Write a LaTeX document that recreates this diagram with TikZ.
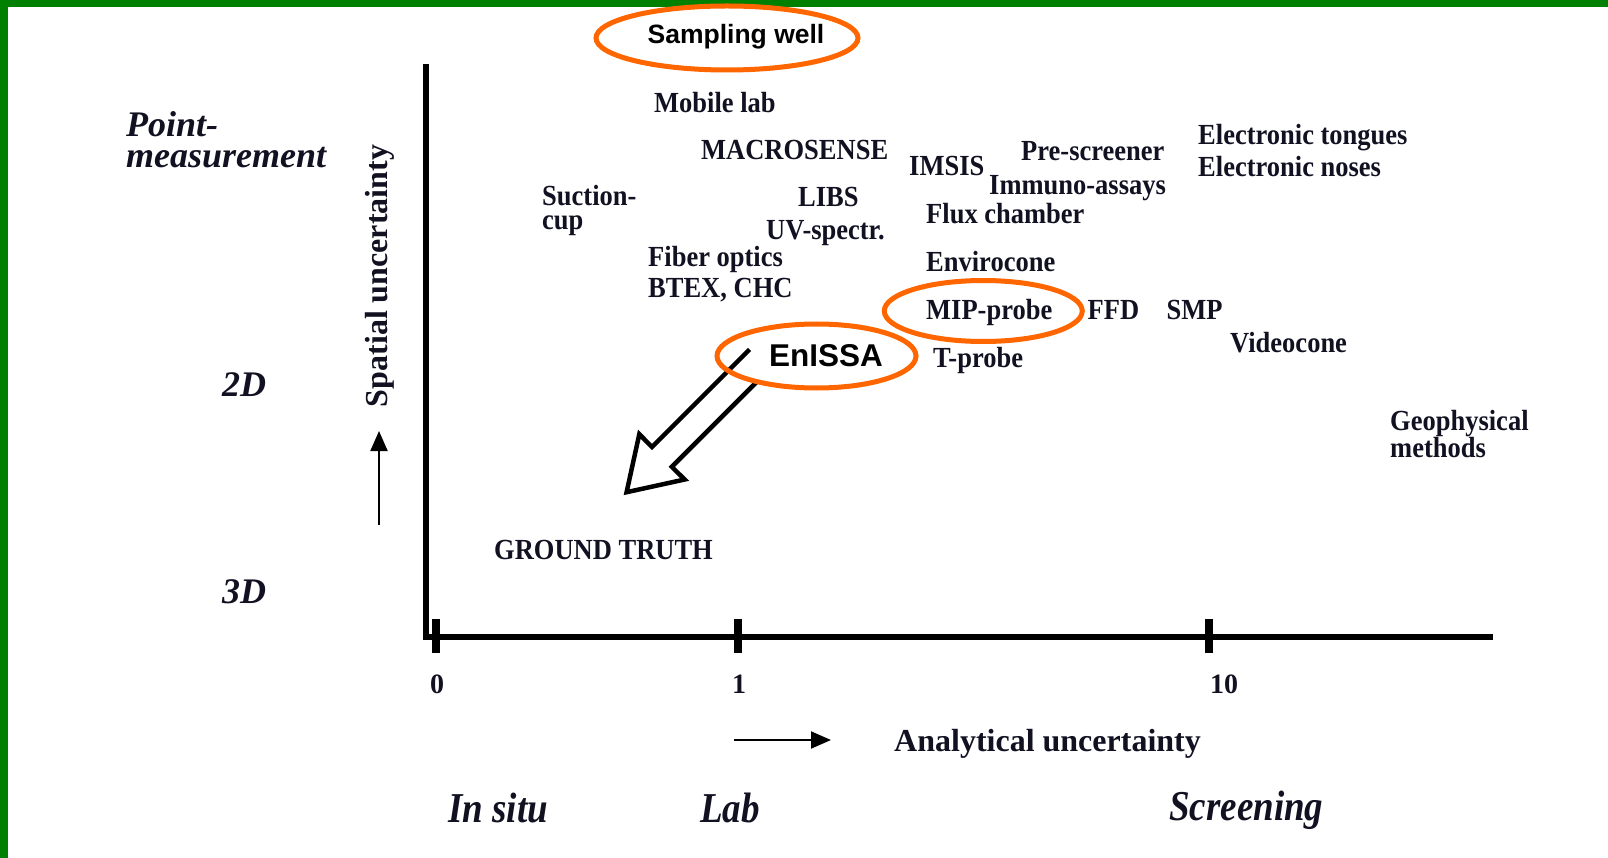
\documentclass[tikz,border=0pt]{standalone}
\usepackage{fontspec}
\setmainfont{Liberation Serif}
\newfontfamily\arialfont{Liberation Sans}
\usetikzlibrary{positioning,arrows.meta}

\definecolor{ink}{RGB}{17,17,34}
\definecolor{ringorange}{RGB}{255,102,0}
\definecolor{framegreen}{RGB}{0,128,0}

\tikzset{
	lbl/.style={font=\fontsize{26.5}{28}\selectfont\bfseries, text=ink, inner sep=0pt, text height=17.5pt, text depth=1.5pt, anchor=west, yscale=1.1},
	side/.style={font=\fontsize{36}{38}\selectfont\bfseries\itshape, text=ink, inner sep=0pt, anchor=base west},
	kind/.style={font=\fontsize{37}{39}\selectfont\bfseries\itshape, text=ink, inner sep=0pt, anchor=base west, yscale=1.15},
	axl/.style={font=\fontsize{32}{34}\selectfont\bfseries, text=ink, inner sep=0pt},
	num/.style={font=\fontsize{28}{30}\selectfont\bfseries, text=ink, inner sep=0pt, anchor=base},
	tag/.style={text=black, inner sep=0pt, anchor=base},
	ring/.style={draw=ringorange, line width=5pt},
	axisline/.style={line width=5.5pt, line join=miter},
	tickmark/.style={line width=8pt},
	hint/.style={line width=2pt, -{Triangle[length=20pt,width=17pt]}},
	bigarrow/.style={line width=4.5pt, line join=miter},
}

\begin{document}
\begin{tikzpicture}[x=1pt, y=-1pt]
	\useasboundingbox (0,0) rectangle (1608,858);
	\fill[framegreen] (0,0) rectangle (1608,7);
	\fill[framegreen] (0,0) rectangle (8,858);

	\coordinate (o) at (426,637);
	\coordinate (yt) at (426,64);
	\coordinate (xe) at (1493,637);
	\draw[axisline] (yt) -- (o) -- (xe);
	\foreach \x/\lx/\t in {436/437/0, 738/739/1, 1209/1224/10} {
		\draw[tickmark] (\x,619) -- (\x,653);
		\node[num] at (\lx,693) {\t};
	}

	\node[side] (pt) at (126,137) {Point-};
	\node[side, below=31pt of pt.base west, anchor=base west] (pm) {measurement};
	\node[side] (d2) at (222,396) {2D};
	\node[side] (d3) at (222,603) {3D};

	\node[axl, rotate=90] (su) at (380,276) {Spatial uncertainty};
	\coordinate (su0) at (379,525);
	\coordinate (su1) at (379,431);
	\draw[hint] (su0) -- (su1);
	\node[axl, anchor=base west] (au) at (894,751) {Analytical uncertainty};
	\coordinate (au0) at (734,740);
	\coordinate (au1) at (831,740);
	\draw[hint] (au0) -- (au1);

	\node[kind] (is) at (448,822) {In situ};
	\node[kind] (lb) at (700,822) {Lab};
	\node[kind] (sg) at (1169,820) {Screening};

	\node[lbl] (ml) at (654,104) {Mobile lab};
	\node[lbl] (mc) at (701,151) {MACROSENSE};
	\node[lbl] (im) at (909,167) {IMSIS};
	\node[lbl] (ps) at (1021,152) {Pre-screener};
	\node[lbl] (ia) at (989,186) {Immuno-assays};
	\node[lbl] (et) at (1198,136) {Electronic tongues};
	\node[lbl, below=32pt of et.west, anchor=west] (eno) {Electronic noses};
	\node[lbl] (sc) at (542,197) {Suction-};
	\node[lbl, below=24pt of sc.west, anchor=west] (cu) {cup};
	\node[lbl] (li) at (798,198) {LIBS};
	\node[lbl] (uv) at (766,231) {UV-spectr.};
	\node[lbl] (fc) at (926,215) {Flux chamber};
	\node[lbl] (fo) at (648,258) {Fiber optics};
	\node[lbl, below=31pt of fo.west, anchor=west] (bt) {BTEX, CHC};
	\node[lbl] (ev) at (926,263) {Envirocone};
	\node[lbl] (mip) at (926,311) {MIP-probe};
	\node[lbl, right=35pt of mip.east, anchor=west] (ffd) {FFD};
	\node[lbl, right=27pt of ffd.east, anchor=west] (smp) {SMP};
	\node[lbl] (vc) at (1230,344) {Videocone};
	\node[lbl] (tp) at (933,359) {T-probe};
	\node[lbl] (gp) at (1390,422) {Geophysical};
	\node[lbl, below=27pt of gp.west, anchor=west] (me) {methods};
	\node[lbl] (gt) at (494,551) {GROUND TRUTH};

	\draw[bigarrow] (749.6,349.4) -- (652,447) -- (639.3,434.2) -- (626.6,492.2) -- (684.6,479.5) -- (671.8,466.8) -- (756.7,381.9);

	\node[tag, font=\arialfont\bfseries\fontsize{26.5}{28}\selectfont] (sw) at (736,44) {Sampling well};
	\draw[ring] (727,38) ellipse [x radius=131, y radius=32];
	\node[tag, font=\arialfont\bfseries\fontsize{31.5}{33}\selectfont] (ens) at (826,366.5) {EnISSA};
	\draw[ring] (816.5,356) ellipse [x radius=99.5, y radius=32];
	\draw[ring] ([xshift=-6pt]mip.center) ellipse [x radius=99, y radius=30.5];
\end{tikzpicture}
\end{document}
